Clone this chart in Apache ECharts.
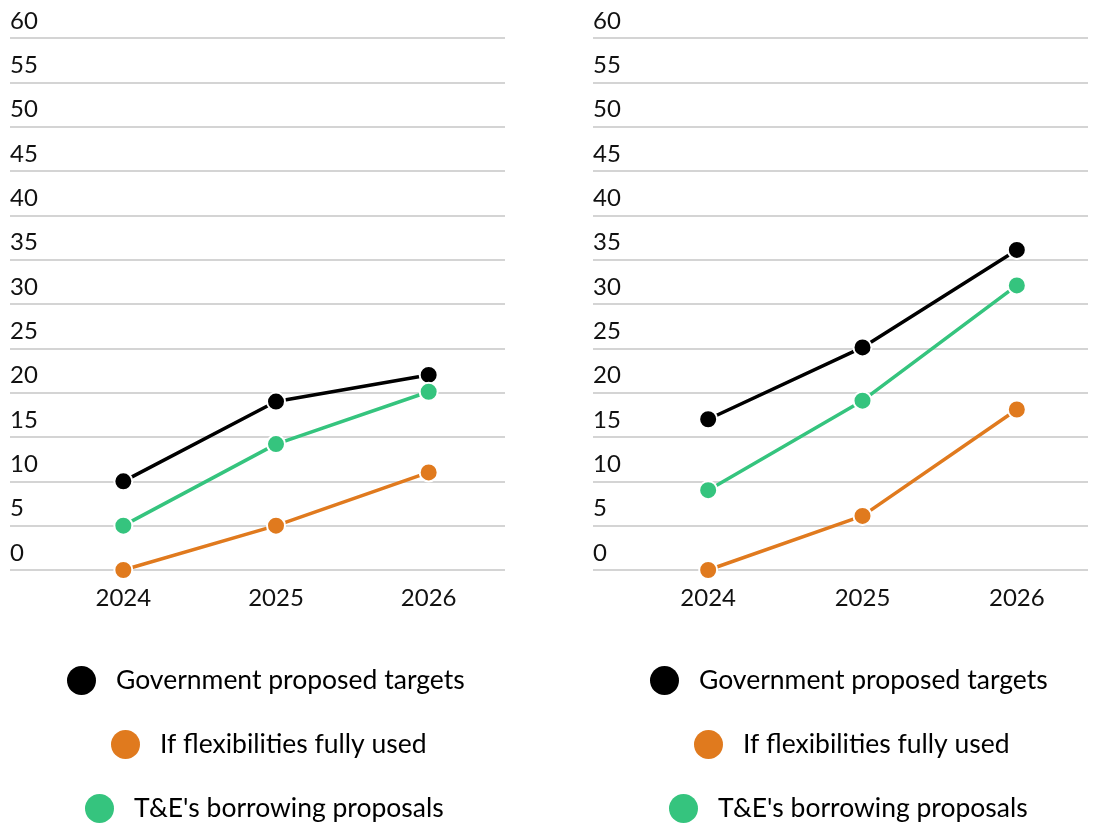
<!DOCTYPE html>
<html>
<head>
<meta charset="utf-8">
<script src="https://cdn.jsdelivr.net/npm/echarts@6/dist/echarts.min.js"></script>
<style>
  html, body { margin: 0; padding: 0; background: #fff; }
  #chart { width: 1094px; height: 827px; }
</style>
</head>
<body>
<div id="chart"></div>
<script>
// chart data
const years = ['2024', '2025', '2026']
const seriesNames = ['Government proposed targets', 'If flexibilities fully used', "T&E's borrowing proposals"]
const leftGov = [10, 19, 22]
const leftFlex = [0, 5, 11]
const leftTE = [5, 14.2, 20.1]
const rightGov = [17, 25.1, 36.1]
const rightFlex = [0, 6.1, 18.1]
const rightTE = [9, 19.1, 32.1]
const colors = ['#000000', '#e07a1e', '#35c47e']

const font = '"Source Sans Pro", Lato, "Noto Sans", sans-serif'

const chart = echarts.init(document.getElementById('chart'))

function gridAxisY(gridIndex) {
  return {
    type: 'value', gridIndex, min: 0, max: 60, interval: 5,
    axisLine: { show: false }, axisTick: { show: false },
    splitLine: { show: true, lineStyle: { color: '#d4d4d4', width: 2 } },
    axisLabel: {
      inside: true, margin: 0, align: 'left', verticalAlign: 'bottom',
      padding: [0, 0, 5, 0],
      color: '#111', fontSize: 24, fontFamily: font
    }
  }
}

function dataAxisY(gridIndex) {
  return { type: 'value', gridIndex, min: 0, max: 60, show: false, splitLine: { show: false } }
}

function dataAxisX(gridIndex) {
  return {
    type: 'category', gridIndex, data: years, boundaryGap: true,
    axisLine: { show: false }, axisTick: { show: false },
    axisLabel: { margin: 16, color: '#111', fontSize: 24, fontFamily: font }
  }
}

function line(name, data, color, axisIndex) {
  return {
    name, type: 'line', data,
    xAxisIndex: axisIndex, yAxisIndex: axisIndex,
    symbol: 'circle', symbolSize: 18,
    lineStyle: { color, width: 3.5 },
    itemStyle: { color, borderColor: '#fff', borderWidth: 2 },
    emphasis: { disabled: true }
  }
}

function legendItem(name, left, top) {
  return {
    data: [name], left, top, padding: 0,
    orient: 'horizontal', icon: 'circle',
    itemWidth: 29, itemHeight: 29,
    itemStyle: { borderWidth: 0 },
    textStyle: { fontSize: 26.5, fontFamily: font, color: '#000', padding: [0, 0, 0, 15] }
  }
}

chart.setOption({
  animation: false,
  grid: [
    { left: 10, top: 38, width: 495, height: 532 },
    { left: 47, top: 38, width: 458, height: 532 },
    { left: 593, top: 38, width: 495, height: 532 },
    { left: 631, top: 38, width: 472.5, height: 532 }
  ],
  xAxis: [
    { type: 'value', gridIndex: 0, show: false },
    dataAxisX(1),
    { type: 'value', gridIndex: 2, show: false },
    dataAxisX(3)
  ],
  yAxis: [gridAxisY(0), dataAxisY(1), gridAxisY(2), dataAxisY(3)],
  legend: [
    legendItem(seriesNames[0], 67, 666),
    legendItem(seriesNames[1], 111, 730),
    legendItem(seriesNames[2], 85, 794),
    legendItem(seriesNames[0], 650, 666),
    legendItem(seriesNames[1], 694, 730),
    legendItem(seriesNames[2], 669, 794)
  ],
  series: [
    line(seriesNames[0], leftGov, colors[0], 1),
    line(seriesNames[2], leftTE, colors[2], 1),
    line(seriesNames[1], leftFlex, colors[1], 1),
    line(seriesNames[0], rightGov, colors[0], 3),
    line(seriesNames[2], rightTE, colors[2], 3),
    line(seriesNames[1], rightFlex, colors[1], 3)
  ]
})
</script>
</body>
</html>
